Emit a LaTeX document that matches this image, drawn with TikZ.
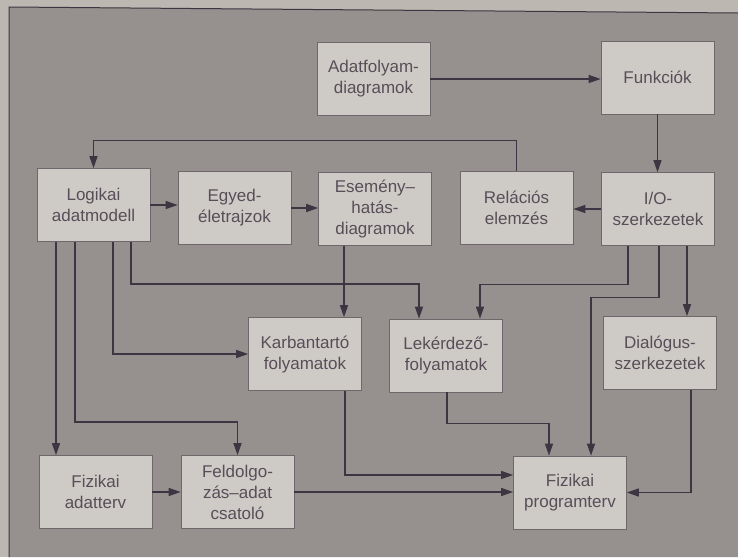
\documentclass[tikz,border=0pt]{standalone}
\usepackage{fontspec}
\setmainfont{Liberation Sans}
\usetikzlibrary{arrows.meta}
\definecolor{outside}{RGB}{188,183,176}
\definecolor{bgc}{RGB}{150,144,142}
\definecolor{boxc}{RGB}{206,203,199}
\definecolor{linec}{RGB}{60,54,66}
\definecolor{textc}{RGB}{88,78,88}
\definecolor{edgec}{RGB}{110,104,108}
\tikzset{
  box/.style={draw=edgec, line width=0.7pt, fill=boxc, minimum width=113pt, minimum height=73pt,
    inner sep=2pt, align=center, text=textc, font=\fontsize{17}{21}\selectfont},
  arr/.style={draw=linec, line width=1.3pt, -{Triangle[length=12pt,width=8pt]}},
  ln/.style={draw=linec, line width=1.3pt}
}
\begin{document}
\begin{tikzpicture}[x=1pt,y=-1pt]
\useasboundingbox (0,0) rectangle (738,557);
\fill[outside] (0,0) rectangle (738,557);
\fill[bgc] (9,7) -- (738,13) -- (738,557) -- (9,557) -- cycle;
\draw[linec, line width=1pt] (9,557) -- (9,7) -- (738,13);

\node[box] (adf) at (373.5,79) {Adatfolyam-\\diagramok};
\node[box] (fun) at (657.5,77.5) {Funkciók};
\node[box] (log) at (93.5,205) {Logikai\\adatmodell};
\node[box] (egy) at (234.5,208) {Egyed-\\életrajzok};
\node[box] (ese) at (375,209) {Esemény–\\hatás-\\diagramok};
\node[box] (rel) at (516.5,208) {Relációs\\elemzés};
\node[box] (io) at (658,209) {I/O-\\szerkezetek};
\node[box] (kar) at (305,354) {Karbantartó\\folyamatok};
\node[box] (lek) at (446,355.5) {Lekérdező-\\folyamatok};
\node[box] (dia) at (660,353) {Dialógus-\\szerkezetek};
\node[box] (fad) at (95.5,492) {Fizikai\\adatterv};
\node[box] (fel) at (237.5,492) {Feldolgo-\\zás–adat\\csatoló};
\node[box] (fpr) at (570,492.5) {Fizikai\\programterv};

% top row
\draw[arr] (adf.east) -- (adf.east -| fun.west);
\draw[arr] (fun.south) -- (fun.south |- io.north);
\draw[arr] (rel.north) -- ++(0,-31) -| (log.north);
% second row
\draw[arr] (log.east) -- (log.east -| egy.west);
\draw[arr] (egy.east) -- (egy.east -| ese.west);
\draw[arr] (io.west) -- (io.west -| rel.east);
% from Logikai adatmodell
\draw[arr] ([xshift=-37.5pt]log.south) -- ([xshift=-37.5pt]log.south |- fad.north);
\draw[arr] ([xshift=-18.5pt]log.south) -- ++(0,180) -| (fel.north);
\draw[arr] ([xshift=19.5pt]log.south) |- (kar.west);
\draw[arr] ([xshift=37.5pt]log.south) -- ++(0,42) -| ([xshift=-27pt]lek.north);
% from Esemény
\draw[arr] ([xshift=-31pt]ese.south) -- ([xshift=-31pt]ese.south |- kar.north);
% from I/O
\draw[arr] ([xshift=-30pt]io.south) -- ++(0,38.5) -| ([xshift=34pt]lek.north);
\draw[arr] ([xshift=1pt]io.south) -- ++(0,51.5) -| ([xshift=21pt]fpr.north);
\draw[arr] ([xshift=29pt]io.south) -- ([xshift=29pt]io.south |- dia.north);
% into Fizikai programterv
\draw[arr] ([xshift=40pt]kar.south) |- ([yshift=17.5pt]fpr.west);
\draw[arr] ([xshift=1pt]lek.south) -- ++(0,31) -| ([xshift=-21pt]fpr.north);
\draw[arr] (fel.east) -- (fel.east -| fpr.west);
\draw[arr] ([xshift=31pt]dia.south) |- (fpr.east);
% bottom left
\draw[arr] (fad.east) -- (fad.east -| fel.west);
\end{tikzpicture}
\end{document}
